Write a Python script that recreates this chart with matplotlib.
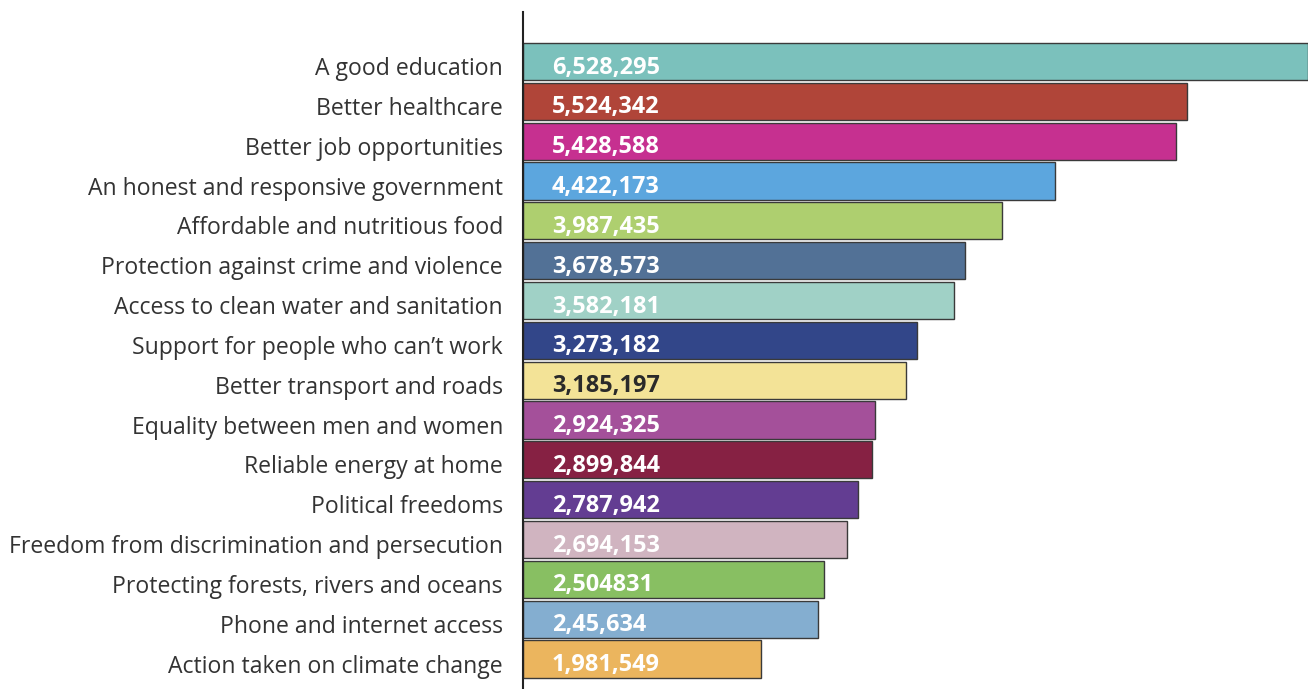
import matplotlib
matplotlib.use("Agg")
import matplotlib.pyplot as plt
from matplotlib.transforms import ScaledTranslation, blended_transform_factory

categories = [
    "A good education", "Better healthcare", "Better job opportunities",
    "An honest and responsive government", "Affordable and nutritious food",
    "Protection against crime and violence", "Access to clean water and sanitation",
    "Support for people who can\u2019t work", "Better transport and roads",
    "Equality between men and women", "Reliable energy at home",
    "Political freedoms", "Freedom from discrimination and persecution",
    "Protecting forests, rivers and oceans", "Phone and internet access",
    "Action taken on climate change",
]
values = [6528295, 5524342, 5428588, 4422173, 3987435, 3678573, 3582181,
          3273182, 3185197, 2924325, 2899844, 2787942, 2694153, 2504831,
          2456340, 1981549]
value_labels = ["6,528,295", "5,524,342", "5,428,588", "4,422,173", "3,987,435",
                "3,678,573", "3,582,181", "3,273,182", "3,185,197", "2,924,325",
                "2,899,844", "2,787,942", "2,694,153", "2,504831", "2,45,634",
                "1,981,549"]
colors = ["#7bc1bc", "#b04539", "#c63090", "#5ca6de", "#aecf6f", "#527196",
          "#a0d1c6", "#324689", "#f3e397", "#a4509a", "#862143", "#633d92",
          "#d0b4c0", "#88bf62", "#84aed0", "#ebb55e"]
text_colors = ["white"] * 8 + ["#2a2a2a"] + ["white"] * 7

plt.rcParams['font.family'] = ['Open Sans', 'DejaVu Sans']

fig = plt.figure(figsize=(13.08, 6.89), dpi=100)
ax = fig.add_axes([523 / 1308, 0, 1 - 523 / 1308, 1 - 12 / 689])

y = list(range(len(categories)))
ax.barh(y, values, height=0.93, color=colors, edgecolor="#3a3a3a", linewidth=1.0)

ax.set_xticks([])
ax.set_yticks([])
ax.set_xlim(0, 6528295)
ax.set_ylim(15 + 0.753, -1.243)
for s in ["top", "right", "bottom"]:
    ax.spines[s].set_visible(False)
ax.spines["left"].set_linewidth(1.5)
ax.spines["left"].set_color("#222222")

renderer = fig.canvas.get_renderer()

def fit_size(text, weight, target_px, base=16.0):
    t = fig.text(0, 0, text, fontsize=base, fontweight=weight)
    w = t.get_window_extent(renderer).width
    t.remove()
    return base * target_px / w

cat_size = fit_size(max(categories, key=len), "normal", 495)
val_size = fit_size("6,528,295", "bold", 108)

trans_y = blended_transform_factory(ax.transAxes, ax.transData)
cat_tr = trans_y + ScaledTranslation(-20 / 100, -7.5 / 100, fig.dpi_scale_trans)
val_tr = trans_y + ScaledTranslation(29 / 100, -6 / 100, fig.dpi_scale_trans)

for yi, cat, lab, tc in zip(y, categories, value_labels, text_colors):
    ax.text(0, yi, cat, transform=cat_tr, ha="right", va="center",
            fontsize=cat_size, color="#333333")
    ax.text(0, yi, lab, transform=val_tr, ha="left", va="center",
            fontsize=val_size, fontweight="bold", color=tc)

fig.savefig("out.png", dpi=100)
